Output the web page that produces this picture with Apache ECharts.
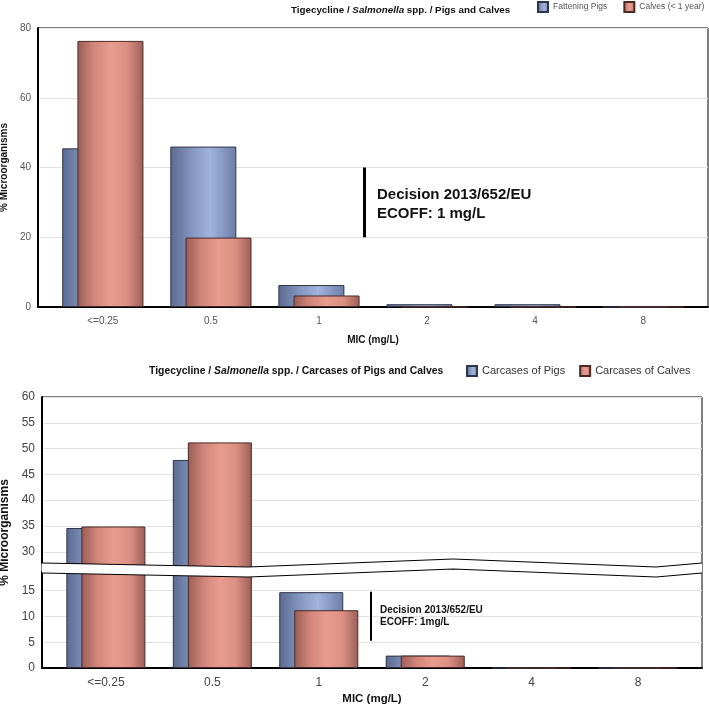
<!DOCTYPE html>
<html>
<head>
<meta charset="utf-8">
<script src="https://cdn.jsdelivr.net/npm/echarts@6/dist/echarts.min.js"></script>
<style>
  html, body { margin: 0; padding: 0; background: #fff; }
  #chart { width: 709px; height: 706px; }
</style>
</head>
<body>
<div id="chart"></div>
<script>
// MIC classes (x axis)
const micLabels = ['<=0.25', '0.5', '1', '2', '4', '8']
const micIndex = [0, 1, 2, 3, 4, 5]

// top panel - Pigs and Calves (%)
const fatteningPigs = [45.5, 46.0, 6.3, 0.8, 0.8, 0]
const calvesUnder1 = [76.3, 19.9, 3.3, 0, 0, 0]

// bottom panel - Carcases (%)
const carcasesPigs = [34.6, 47.8, 14.7, 2.4, 0, 0]
const carcasesCalves = [34.9, 51.2, 11.2, 2.4, 0, 0]

// y ticks
const topTicks = [0, 20, 40, 60, 80]
const bottomTicks = [0, 5, 10, 15, 30, 35, 40, 45, 50, 55, 60]

// broken part of the lower y axis
const lowerBreak = { start: 18.6, end: 27.8 }

// ECOFF marker lines (x in class index units, y in %)
const ecoffTop = { x: 2.42, from: 20, to: 40 }
const ecoffBottom = { x: 2.49, from: 5.3, to: 14.8 }

const font = 'Liberation Sans'

// cylinder-ish shading like the original
const blueFill = new echarts.graphic.LinearGradient(0, 0, 1, 0, [
  { offset: 0, color: '#5b6a8f' },
  { offset: 0.3, color: '#8193bd' },
  { offset: 0.6, color: '#a1b4de' },
  { offset: 1, color: '#6c7ea6' }
])
const redFill = new echarts.graphic.LinearGradient(0, 0, 1, 0, [
  { offset: 0, color: '#9a5d56' },
  { offset: 0.25, color: '#d2867b' },
  { offset: 0.5, color: '#e89b8f' },
  { offset: 0.75, color: '#dc9084' },
  { offset: 1, color: '#9c5f57' }
])

const toPoints = arr => arr.map((v, i) => [micIndex[i], v])

const xAxisBase = (gridIndex, fontSize, nameGap, labelColor) => ({
  type: 'value',
  gridIndex,
  min: -0.6,
  max: 5.6,
  axisLine: { show: true, onZero: false, lineStyle: { color: '#000', width: 2 } },
  axisTick: { show: false },
  splitLine: { show: false },
  axisLabel: {
    customValues: micIndex,
    formatter: v => micLabels[Math.round(v)],
    color: labelColor,
    fontSize,
    fontFamily: font,
    margin: 9
  },
  name: 'MIC (mg/L)',
  nameLocation: 'middle',
  nameGap,
  nameTextStyle: { fontWeight: 'bold', fontSize: fontSize === 12 ? 11.5 : fontSize, fontFamily: font, color: '#111' }
})

const titleRich = size => ({
  b: { fontWeight: 'bold', fontSize: size, fontFamily: font, color: '#111' },
  i: { fontWeight: 'bold', fontStyle: 'italic', fontSize: size, fontFamily: font, color: '#111' }
})

// ECOFF line drawn on an empty helper series (bar series would shift it by the bar offset)
const ecoffSeries = (idx, line, width) => ({
  type: 'line',
  xAxisIndex: idx,
  yAxisIndex: idx,
  data: [],
  silent: true,
  markLine: {
    silent: true,
    symbol: 'none',
    label: { show: false },
    lineStyle: { color: '#000', width, type: 'solid' },
    data: [[{ coord: [line.x, line.from] }, { coord: [line.x, line.to] }]]
  }
})

const chart = echarts.init(document.getElementById('chart'))

const option = {
  animation: false,
  backgroundColor: '#fff',
  title: [
    {
      text: '{b|Tigecycline / }{i|Salmonella}{b| spp. / Pigs and Calves}',
      left: 286,
      top: 0,
      textStyle: { rich: titleRich(9.8) }
    },
    {
      text: '{b|Tigecycline / }{i|Salmonella}{b| spp. / Carcases of Pigs and Calves}',
      left: 144,
      top: 361,
      textStyle: { rich: titleRich(10.4) }
    }
  ],
  legend: [
    {
      data: ['Fattening Pigs', 'Calves (< 1 year)'],
      left: 537,
      top: 1,
      padding: 0,
      icon: 'rect',
      itemWidth: 10,
      itemHeight: 10,
      itemGap: 16,
      textStyle: { fontSize: 8.5, fontFamily: font, color: '#555' }
    },
    {
      data: ['Carcases of Pigs', 'Carcases of Calves'],
      left: 466,
      top: 365,
      padding: 0,
      icon: 'rect',
      itemWidth: 10,
      itemHeight: 10,
      itemGap: 14,
      textStyle: { fontSize: 11, fontFamily: font, color: '#333' }
    }
  ],
  grid: [
    { left: 38, right: 1, top: 28, height: 279, outerBoundsMode: 'none', show: true, borderColor: '#000', borderWidth: 1 },
    { left: 42, right: 7, top: 397, height: 271, outerBoundsMode: 'none', show: true, borderColor: '#000', borderWidth: 1 }
  ],
  xAxis: [
    xAxisBase(0, 10, 28, '#555'),
    xAxisBase(1, 12, 25, '#444')
  ],
  yAxis: [
    {
      type: 'value',
      gridIndex: 0,
      min: 0,
      max: 80,
      interval: 20,
      axisLine: { show: true, onZero: false, lineStyle: { color: '#000', width: 2 } },
      axisTick: { show: false, customValues: topTicks },
      splitLine: { lineStyle: { color: '#e2e2e2' } },
      axisLabel: { customValues: topTicks, color: '#555', fontSize: 10, fontFamily: font, margin: 7 },
      name: '% Microorganisms',
      nameLocation: 'middle',
      nameGap: 23,
      nameTextStyle: { fontWeight: 'bold', fontSize: 10, fontFamily: font, color: '#111' }
    },
    {
      type: 'value',
      gridIndex: 1,
      min: 0,
      max: 60,
      interval: 5,
      breaks: [{ start: lowerBreak.start, end: lowerBreak.end, gap: '3.3%' }],
      breakArea: {
        show: true,
        expandOnClick: false,
        zigzagAmplitude: 4,
        zigzagMinSpan: 200,
        zigzagMaxSpan: 220,
        zigzagZ: 200,
        itemStyle: { color: '#fff', borderColor: '#000', borderWidth: 1.8, borderType: 'solid', opacity: 1 }
      },
      axisLine: { show: true, onZero: false, lineStyle: { color: '#000', width: 2 } },
      axisTick: { show: false, customValues: bottomTicks },
      splitLine: { lineStyle: { color: '#e2e2e2' } },
      axisLabel: { customValues: bottomTicks, color: '#444', fontSize: 12, fontFamily: font, margin: 7 },
      name: '% Microorganisms',
      nameLocation: 'middle',
      nameGap: 26,
      nameTextStyle: { fontWeight: 'bold', fontSize: 12, fontFamily: font, color: '#111' }
    }
  ],
  series: [
    {
      name: 'Fattening Pigs',
      type: 'bar',
      xAxisIndex: 0,
      yAxisIndex: 0,
      barWidth: 66,
      barGap: '-77%',
      itemStyle: { color: blueFill, borderColor: '#2e3548', borderWidth: 1 },
      data: toPoints(fatteningPigs)
    },
    {
      name: 'Calves (< 1 year)',
      type: 'bar',
      xAxisIndex: 0,
      yAxisIndex: 0,
      barWidth: 66,
      barGap: '-77%',
      itemStyle: { color: redFill, borderColor: '#4a2a26', borderWidth: 1 },
      data: toPoints(calvesUnder1)
    },
    {
      name: 'Carcases of Pigs',
      type: 'bar',
      xAxisIndex: 1,
      yAxisIndex: 1,
      barWidth: 64,
      barGap: '-76.5%',
      itemStyle: { color: blueFill, borderColor: '#2e3548', borderWidth: 1 },
      data: toPoints(carcasesPigs)
    },
    {
      name: 'Carcases of Calves',
      type: 'bar',
      xAxisIndex: 1,
      yAxisIndex: 1,
      barWidth: 64,
      barGap: '-76.5%',
      itemStyle: { color: redFill, borderColor: '#4a2a26', borderWidth: 1 },
      data: toPoints(carcasesCalves)
    },
    ecoffSeries(0, ecoffTop, 3),
    ecoffSeries(1, ecoffBottom, 2)
  ],
  graphic: [
    {
      type: 'text',
      left: 377,
      top: 185,
      style: {
        text: 'Decision 2013/652/EU\nECOFF: 1 mg/L',
        font: 'bold 15px "Liberation Sans"',
        lineHeight: 19,
        fill: '#111'
      }
    },
    {
      type: 'text',
      left: 380,
      top: 604,
      style: {
        text: 'Decision 2013/652/EU\nECOFF: 1mg/L',
        font: 'bold 10px "Liberation Sans"',
        lineHeight: 12,
        fill: '#111'
      }
    }
  ]
}

chart.setOption(option)
</script>
</body>
</html>
